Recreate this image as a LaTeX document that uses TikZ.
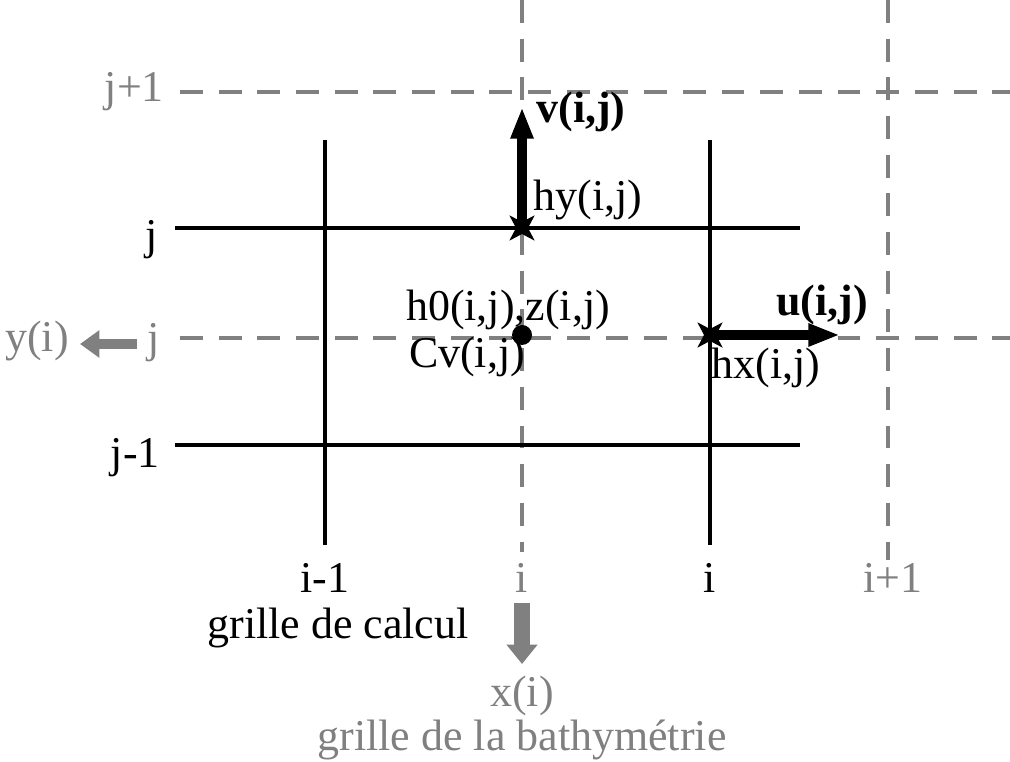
\documentclass[tikz,border=0pt]{standalone}
\usepackage{fontspec}
\setmainfont{Liberation Serif}
\usetikzlibrary{arrows.meta,positioning}

\newcommand{\xstar}[1]{\fill[shift={(#1)}] (45:0.18cm) -- (90:0.06cm) -- (135:0.18cm) -- (180:0.06cm)
  -- (225:0.18cm) -- (270:0.06cm) -- (315:0.18cm) -- (0:0.06cm) -- cycle;}

\begin{document}
\begin{tikzpicture}[x=0.01cm,y=-0.01cm,font=\fontsize{12.5}{15}\selectfont,
  calc/.style={black,line width=1.1pt},
  bathy/.style={gray,line width=1.4pt,dash pattern=on 6.5pt off 4.5pt},
  glab/.style={text=gray,inner sep=1pt},
  klab/.style={text=black,inner sep=1pt},
  vec/.style={line width=3pt,-{Triangle[length=9pt,width=6pt]}},
  fat/.style 2 args={gray,line width=#1,-{Triangle[length=5.5pt,width=#2]}}]
  \useasboundingbox (0,0) rectangle (1010,762);
  % bathymetry grid (dashed)
  \coordinate (b1) at (180,92);
  \coordinate (b2) at (180,338);
  \draw[bathy] (b1) -- (1010,92);
  \draw[bathy] (b2) -- (1010,338);
  \draw[bathy] (522,0) -- (522,552);
  \draw[bathy] (888,0) -- (888,560);
  % computation grid (solid)
  \foreach \x in {325,710} \draw[calc] (\x,140) -- (\x,545);
  \foreach \y in {228,445} \draw[calc] (175,\y) -- (800,\y);
  % row labels
  \node[glab,anchor=east] (jp) at (168,92) {j+1};
  \node[klab,anchor=east] (jc) at (162,240) {j};
  \node[glab,anchor=east] (jb) at (164,343) {j};
  \node[klab,anchor=east] (jm) at (164,458) {j-1};
  \node[glab] (yi) at (37,341) {y(i)};
  \draw[fat={3pt}{7.5pt}] (137,344) -- (80,344);
  % column labels
  \node[klab] (im) at (325,578) {i-1};
  \node[glab] (ib) at (522,578) {i};
  \node[klab] (ic) at (710,578) {i};
  \node[glab] (ip) at (893,578) {i+1};
  \node[klab] (gc) at (338,628) {grille de calcul};
  \draw[fat={4.5pt}{8.5pt}] (522,603) -- (522,664);
  \node[glab] (xi) at (522,696) {x(i)};
  \node[glab] (gb) at (522,740) {grille de la bathymétrie};
  % variables
  \coordinate (hy) at (522,228);
  \coordinate (hx) at (710,335);
  \coordinate (vt) at (522,107);
  \coordinate (ut) at (840,335);
  \draw[vec] (hy) -- (vt);
  \draw[vec] (hx) -- (ut);
  \xstar{hy}
  \xstar{hx}
  \fill (522,335) circle (10);
  \node[klab,font=\fontsize{12.5}{15}\selectfont\bfseries] (vl) at (581,112) {v(i,j)};
  \node[klab] (hyl) at (588,200) {hy(i,j)};
  \node[klab,font=\fontsize{12.5}{15}\selectfont\bfseries] (ul) at (822,305) {u(i,j)};
  \node[klab] (hxl) at (766,368) {hx(i,j)};
  \node[klab] (h0) at (508,310) {h0(i,j),z(i,j)};
  \node[klab] (cv) at (467,357) {Cv(i,j)};
\end{tikzpicture}
\end{document}
